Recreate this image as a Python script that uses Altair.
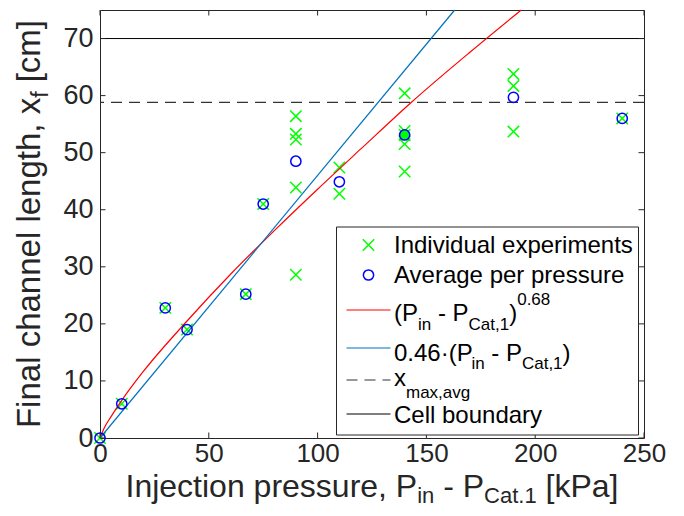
import altair as alt
import pandas as pd

# ---------------- data ----------------
ind_p = [0, 10, 30, 40, 67, 75, 90, 90, 90, 90, 90, 110, 110, 140, 140, 140, 140, 140, 190, 190, 190, 240]
ind_x = [0, 6.0, 22.8, 19.0, 25.2, 41.0, 56.4, 53.3, 52.3, 43.9, 28.6, 47.4, 42.8,
         60.4, 53.8, 53.1, 51.5, 46.7, 63.8, 61.7, 53.7, 56.0]

avg_p = [0, 10, 30, 40, 67, 75, 90, 110, 140, 190, 240]
avg_x = [0, 6.0, 22.8, 19.0, 25.2, 41.0, 48.5, 44.9, 53.1, 59.7, 56.0]
avg_fill = ["transparent"] * 8 + ["#00FF00"] + ["transparent"] * 2

pow_p = [0, 2, 5, 10, 20, 40, 60, 80, 100, 120, 143, 170, 193.6]
pow_x = [0, 1.8, 3.7, 6.6, 11.7, 20.5, 28.7, 36.3, 43.6, 50.7, 58.8, 67.6, 75.0]

lin_p = [0, 163]
lin_x = [0, 75]

x_max_avg = [58.8]
cell_boundary = [70]

x_ticks = [0, 50, 100, 150, 200, 250]
y_ticks = [0, 10, 20, 30, 40, 50, 60, 70]

# ---------------- layout / style ----------------
W, H = 544, 428
FONT = "Liberation Sans"
AX = "#262626"
XPATH = "M-1,-1L1,1M-1,1L1,-1"
TICK = 5.5

xs = alt.Scale(domain=[0, 250], nice=False, zero=False)
ys = alt.Scale(domain=[0, 75], nice=False, zero=False)

x_axis = alt.Axis(values=x_ticks, title=None, grid=False, domain=False, ticks=False, tickSize=0,
                  labelFontSize=26, labelFont=FONT, labelColor=AX, labelPadding=2,
                  labelFlush=False, labelOverlap=False)
y_axis = alt.Axis(values=y_ticks, title=None, grid=False, domain=False, ticks=False, tickSize=0,
                  labelFontSize=27, labelFont=FONT, labelColor=AX, labelPadding=7,
                  labelFlush=False, labelOverlap=False)


def X():
    return alt.X("p:Q", scale=xs, axis=x_axis)


def Y():
    return alt.Y("v:Q", scale=ys, axis=y_axis)


df_ind = pd.DataFrame({"p": ind_p, "v": ind_x})
df_avg = pd.DataFrame({"p": avg_p, "v": avg_x, "f": avg_fill})
df_pow = pd.DataFrame({"p": pow_p, "v": pow_x})
df_lin = pd.DataFrame({"p": lin_p, "v": lin_x})
df_xmax = pd.DataFrame({"v": x_max_avg})
df_cell = pd.DataFrame({"v": cell_boundary})
df_xt = pd.DataFrame({"p": x_ticks})
df_yt = pd.DataFrame({"v": y_ticks})
one = pd.DataFrame({"a": [0]})

pts_ind = alt.Chart(df_ind).mark_point(shape=XPATH, filled=False, color="#00FF00", strokeWidth=1.5,
                                       size=130, opacity=1).encode(x=X(), y=Y())
pts_avg = alt.Chart(df_avg).mark_point(shape="circle", filled=True, stroke="#0000FF", strokeWidth=1.5,
                                       size=105, opacity=1, fillOpacity=1).encode(
    x=X(), y=Y(), fill=alt.Fill("f:N", scale=None))
line_pow = alt.Chart(df_pow).mark_line(color="#FF0000", strokeWidth=1.2, interpolate="monotone").encode(x=X(), y=Y())
line_lin = alt.Chart(df_lin).mark_line(color="#0072BD", strokeWidth=1.2).encode(x=X(), y=Y())
rule_cell = alt.Chart(df_cell).mark_rule(color="#000000", strokeWidth=1).encode(y=Y())
rule_xmax = alt.Chart(df_xmax).mark_rule(color="#333333", strokeWidth=1.3, strokeDash=[11, 7]).encode(y=Y())

tick_b = alt.Chart(df_xt).mark_rule(color=AX, strokeWidth=1).encode(x=X(), y=alt.value(H), y2=alt.value(H - TICK))
tick_t = alt.Chart(df_xt).mark_rule(color=AX, strokeWidth=1).encode(x=X(), y=alt.value(0), y2=alt.value(TICK))
tick_l = alt.Chart(df_yt).mark_rule(color=AX, strokeWidth=1).encode(y=Y(), x=alt.value(0), x2=alt.value(TICK))
tick_r = alt.Chart(df_yt).mark_rule(color=AX, strokeWidth=1).encode(y=Y(), x=alt.value(W), x2=alt.value(W - TICK))

# ---------------- legend (drawn by hand) ----------------
LX0, LX1, LY0, LY1 = 236.5, 538.5, 217, 425
leg_box = alt.Chart(one).mark_rect(fill="white", stroke=AX, strokeWidth=1).encode(
    x=alt.value(LX0), x2=alt.value(LX1), y=alt.value(LY0), y2=alt.value(LY1))
SYM_X = 268.5
leg_x = alt.Chart(one).mark_point(shape=XPATH, filled=False, color="#00FF00", strokeWidth=1.5,
                                  size=130, opacity=1).encode(x=alt.value(SYM_X), y=alt.value(235))
leg_o = alt.Chart(one).mark_point(shape="circle", filled=False, color="#0000FF", strokeWidth=1.5,
                                  size=105, opacity=1).encode(x=alt.value(SYM_X), y=alt.value(265))


def leg_line(y, color, dash=None):
    kw = dict(color=color, strokeWidth=1.2)
    if dash:
        kw["strokeDash"] = dash
    return alt.Chart(one).mark_rule(**kw).encode(x=alt.value(246.5), x2=alt.value(290.5), y=alt.value(y))


leg_red = leg_line(300, "#FF0000")
leg_blue = leg_line(338, "#0072BD")
leg_dash = leg_line(370, "#333333", [11, 7])
leg_solid = leg_line(404, "#000000")

# ---------------- rich text (sub/superscripts) ----------------
CW = {' ': 278, '(': 333, ')': 333, 'P': 667, 'i': 222, 'n': 556, '-': 333, 'C': 722, 'a': 556,
      't': 278, ',': 278, '1': 556, '.': 278, '0': 556, '4': 556, '6': 556, '8': 556, '\u00b7': 278,
      'x': 500, 'm': 833, 'v': 500, 'g': 556, 'I': 278, 'j': 222, 'e': 556, 'c': 500, 'o': 556,
      'p': 556, 'r': 333, 's': 500, 'u': 556, '[': 278, ']': 278, 'k': 500, 'F': 611, 'l': 222,
      'h': 556, 'f': 278, 'd': 556, 'b': 556, 'y': 500, 'A': 667}


def tw(s, fs):
    return sum(CW.get(c, 556) for c in s) * fs / 1000.0


def runs(pieces, x0, y0, vertical=False, color="#000000"):
    rows = []
    pos = 0.0
    for txt, fs, shift in pieces:
        lead = len(txt) - len(txt.lstrip(' '))
        off = tw(' ' * lead, fs)
        body = txt.strip(' ')
        if body:
            if vertical:
                rows.append(dict(t=body, px=x0 + shift, py=y0 - pos - off, fs=fs, ang=270, col=color))
            else:
                rows.append(dict(t=body, px=x0 + pos + off, py=y0 + shift, fs=fs, ang=0, col=color))
        pos += tw(txt, fs)
    return rows, pos


def centered(pieces, center, base, vertical=False, color="#000000"):
    _, total = runs(pieces, 0, 0, vertical, color)
    if vertical:
        return runs(pieces, base, center + total / 2, vertical, color)[0]
    return runs(pieces, center - total / 2, base, vertical, color)[0]


TX = 294
rows = []
rows += runs([("Individual experiments", 24, 0)], TX, 243)[0]
rows += runs([("Average per pressure", 24, 0)], TX, 273)[0]
rows += runs([("(P", 24, 0), ("in", 17, 8.5), (" - P", 24, 0), ("Cat,1", 17, 8.5), (")", 24, 0),
              ("0.68", 17, -16)], TX, 311)[0]
rows += runs([("0.46\u00b7(P", 24, 0), ("in", 17, 7.5), (" - P", 24, 0), ("Cat,1", 17, 7.5), (")", 24, 0)],
             TX, 351)[0]
rows += runs([("x", 24, 0), ("max,avg", 17, 12)], TX, 376)[0]
rows += runs([("Cell boundary", 24, 0)], TX, 413)[0]

rows += centered([("Injection pressure, P", 32, 0), ("in", 22, 6.5), (" - P", 32, 0), ("Cat.1", 22, 6.5),
                  (" [kPa]", 32, 0)], W / 2, 486.5, color=AX)
rows += centered([("Final channel length, x", 33, 0), ("f", 23, 8), (" [cm]", 33, 0)], H / 2, -60.5,
                 vertical=True, color=AX)

df_txt = pd.DataFrame(rows)
texts = alt.Chart(df_txt).mark_text(align="left", baseline="alphabetic", font=FONT).encode(
    x=alt.X("px:Q", scale=None), y=alt.Y("py:Q", scale=None), text="t:N",
    size=alt.Size("fs:Q", scale=None), angle=alt.Angle("ang:Q", scale=None),
    color=alt.Color("col:N", scale=None))

chart = alt.layer(
    pts_ind, rule_cell, rule_xmax, line_pow, line_lin, pts_avg,
    tick_b, tick_t, tick_l, tick_r,
    leg_box, leg_x, leg_o, leg_red, leg_blue, leg_dash, leg_solid,
    texts,
).properties(
    width=W, height=H,
    autosize=alt.AutoSizeParams(type="none"),
    padding={"left": 92, "top": 2, "right": 32, "bottom": 70},
).configure_view(stroke=AX, strokeWidth=1)

chart.save("out.html", embed_options={"renderer": "svg", "actions": False})
